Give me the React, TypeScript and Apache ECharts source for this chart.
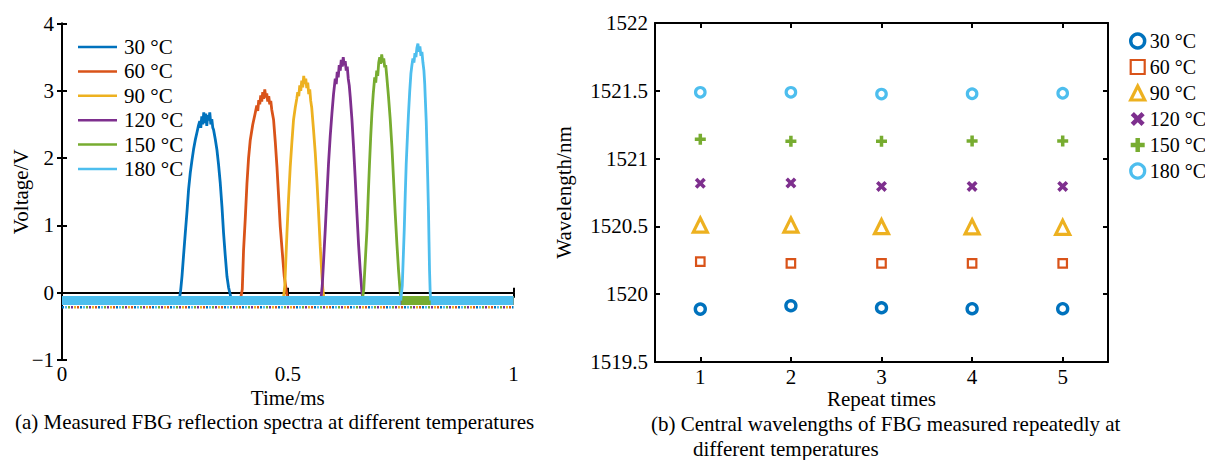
import { useEffect, useRef } from "react";
import * as echarts from "echarts";

const temps = ["30 °C", "60 °C", "90 °C", "120 °C", "150 °C", "180 °C"];
const colors = ["#0072BD", "#D95319", "#EDB120", "#7E2F8E", "#77AC30", "#4DBEEE"];

// (a) reflection spectra: time (ms), voltage (V)
const baseline = -0.116;
const speckLevel = -0.215;
const timeTicks = [0, 0.5, 1];

const peak30 = [
  [0.2597, -0.116], [0.263, 0.05], [0.2657, 0.24], [0.2692, 0.55], [0.273, 0.88], [0.2768, 1.2],
  [0.2803, 1.53], [0.2841, 1.78], [0.2879, 1.97], [0.2914, 2.13], [0.2952, 2.27], [0.2989, 2.38],
  [0.3025, 2.49], [0.3051, 2.55], [0.3074, 2.45], [0.3096, 2.62], [0.3118, 2.5], [0.314, 2.68],
  [0.3162, 2.52], [0.3184, 2.66], [0.3207, 2.48], [0.3229, 2.64], [0.3251, 2.56], [0.3273, 2.68],
  [0.3296, 2.5], [0.3318, 2.58], [0.334, 2.45], [0.3357, 2.42], [0.3395, 2.28], [0.3432, 2.12],
  [0.3468, 1.9], [0.3505, 1.63], [0.3543, 1.28], [0.3578, 0.89], [0.3616, 0.55], [0.3654, 0.24],
  [0.3689, 0.08], [0.3727, -0.03], [0.375, -0.116],
];
const peak60 = [
  [0.3948, -0.116], [0.3993, 0.05], [0.4021, 0.63], [0.4059, 1.1], [0.4097, 1.63], [0.4132, 2.0],
  [0.417, 2.27], [0.4225, 2.5], [0.428, 2.67], [0.4314, 2.78], [0.4336, 2.7], [0.4358, 2.86],
  [0.438, 2.8], [0.4402, 2.93], [0.4424, 2.84], [0.4446, 2.98], [0.4469, 2.88], [0.4491, 3.02],
  [0.4513, 2.9], [0.4535, 2.96], [0.4557, 2.84], [0.4579, 2.92], [0.4601, 2.8], [0.4624, 2.85],
  [0.4646, 2.72], [0.4686, 2.57], [0.4723, 2.25], [0.4761, 1.87], [0.4796, 1.45], [0.4834, 0.98],
  [0.4879, 0.6], [0.4923, 0.24], [0.4982, -0.03], [0.5011, -0.116],
];
const peak90 = [
  [0.49, -0.116], [0.4934, 0.1], [0.4982, 0.88], [0.5018, 1.4], [0.5055, 1.87], [0.5093, 2.25],
  [0.5128, 2.57], [0.5166, 2.75], [0.5199, 2.88], [0.5221, 2.98], [0.5244, 2.92], [0.5266, 3.08],
  [0.5288, 3.0], [0.531, 3.15], [0.5332, 3.05], [0.5354, 3.22], [0.5376, 3.1], [0.5399, 3.18],
  [0.5421, 3.04], [0.5443, 3.12], [0.5465, 2.95], [0.5487, 3.02], [0.5509, 2.85], [0.5531, 2.75],
  [0.5571, 2.42], [0.5609, 2.08], [0.5646, 1.67], [0.5682, 1.2], [0.572, 0.68], [0.5753, 0.3],
  [0.5779, 0.04], [0.5808, -0.116],
];
const peak120 = [
  [0.5731, -0.116], [0.5764, 0.1], [0.583, 0.93], [0.5868, 1.45], [0.5903, 1.92], [0.5941, 2.33],
  [0.5979, 2.67], [0.6014, 2.95], [0.6052, 3.18], [0.6074, 3.1], [0.6096, 3.28], [0.6118, 3.2],
  [0.614, 3.38], [0.6163, 3.3], [0.6185, 3.46], [0.6207, 3.36], [0.6229, 3.5], [0.6251, 3.38],
  [0.6273, 3.44], [0.6295, 3.3], [0.6318, 3.36], [0.634, 3.18], [0.6362, 3.08], [0.6384, 2.91],
  [0.6421, 2.58], [0.6457, 2.17], [0.6494, 1.7], [0.6532, 1.18], [0.6568, 0.72], [0.6605, 0.34],
  [0.6643, 0.0], [0.6671, -0.116],
];
const peak150 = [
  [0.665, -0.116], [0.6683, 0.05], [0.6754, 0.93], [0.6783, 1.45], [0.6811, 1.92], [0.6838, 2.33],
  [0.6864, 2.67], [0.6893, 2.95], [0.6926, 3.2], [0.6949, 3.12], [0.6971, 3.3], [0.6993, 3.22],
  [0.7015, 3.42], [0.7037, 3.5], [0.7059, 3.4], [0.7081, 3.54], [0.7104, 3.42], [0.7126, 3.48],
  [0.7148, 3.35], [0.717, 3.38], [0.7192, 3.22], [0.7214, 3.05], [0.7232, 2.91], [0.7269, 2.58],
  [0.7307, 2.17], [0.7342, 1.7], [0.738, 1.18], [0.7418, 0.72], [0.7453, 0.34], [0.7491, 0.0],
  [0.7513, -0.116],
];
const peak180 = [
  [0.7502, -0.116], [0.7536, 0.1], [0.758, 0.93], [0.7602, 1.45], [0.7624, 1.92], [0.7651, 2.33],
  [0.7675, 2.67], [0.7702, 3.0], [0.7728, 3.26], [0.775, 3.38], [0.7772, 3.48], [0.7795, 3.42],
  [0.7817, 3.56], [0.7839, 3.5], [0.7861, 3.64], [0.7883, 3.7], [0.7905, 3.58], [0.7927, 3.66],
  [0.795, 3.52], [0.7972, 3.58], [0.7994, 3.42], [0.8016, 3.3], [0.8034, 3.1], [0.8045, 2.91],
  [0.8067, 2.55], [0.8082, 2.17], [0.81, 1.7], [0.8118, 1.18], [0.8129, 0.75], [0.814, 0.34],
  [0.8155, 0.0], [0.8166, -0.116],
];
const peaks = [peak30, peak60, peak90, peak120, peak150, peak180];

// (b) central wavelengths (nm) per repeat
const repeats = ["1", "2", "3", "4", "5"];
const wl30 = [1519.89, 1519.915, 1519.9, 1519.893, 1519.893];
const wl60 = [1520.24, 1520.228, 1520.228, 1520.228, 1520.228];
const wl90 = [1520.51, 1520.51, 1520.498, 1520.497, 1520.493];
const wl120 = [1520.818, 1520.82, 1520.795, 1520.795, 1520.795];
const wl150 = [1521.142, 1521.128, 1521.128, 1521.13, 1521.13];
const wl180 = [1521.489, 1521.489, 1521.476, 1521.478, 1521.482];
const wavelengths = [wl30, wl60, wl90, wl120, wl150, wl180];

const FONT = "'Liberation Serif', 'Times New Roman', serif";
const FS = 21;
const PLUS = "path://M3.4,0H6.6V3.4H10V6.6H6.6V10H3.4V6.6H0V3.4H3.4Z";
const CROSS = "path://M0,2.3L2.3,0L5,2.7L7.7,0L10,2.3L7.3,5L10,7.7L7.7,10L5,7.3L2.3,10L0,7.7L2.7,5Z";

const markerStyles = [
  { symbol: "circle", symbolSize: 10, itemStyle: { color: "#fff", borderColor: colors[0], borderWidth: 3.4, opacity: 1 } },
  { symbol: "rect", symbolSize: 8.5, itemStyle: { color: "#fff", borderColor: colors[1], borderWidth: 2.2, opacity: 1 } },
  { symbol: "triangle", symbolSize: 14, itemStyle: { color: "#fff", borderColor: colors[2], borderWidth: 3.2, opacity: 1 } },
  { symbol: CROSS, symbolSize: 11, itemStyle: { color: colors[3], opacity: 1 } },
  { symbol: PLUS, symbolSize: 11, itemStyle: { color: colors[4], opacity: 1 } },
  { symbol: "circle", symbolSize: 9.5, itemStyle: { color: "#fff", borderColor: colors[5], borderWidth: 3.2, opacity: 1 } },
];

const axisLine = { show: true, lineStyle: { color: "#000", width: 2 } };
const tickIn = { show: true, inside: true, length: 5, lineStyle: { color: "#000", width: 2 } };
const labelStyle = { color: "#000", fontFamily: FONT, fontSize: FS };

export default function App() {
  const ref = useRef<HTMLDivElement>(null);
  useEffect(() => {
    if (!ref.current) return;
    const chart = echarts.init(ref.current, undefined, { renderer: "svg" });

    const series: any[] = [];
    colors.forEach((c, i) => {
      series.push({
        type: "line", name: "speck" + i, xAxisIndex: 0, yAxisIndex: 0, showSymbol: false, silent: true,
        data: [[0, speckLevel], [1, speckLevel]],
        lineStyle: { color: c, width: 2.5, type: [2, 16], dashOffset: i * 3 },
        z: 1,
      });
    });
    peaks.forEach((p, i) => {
      const start = p[0][0];
      const end = p[p.length - 1][0];
      series.push({
        type: "line", name: "band" + i, xAxisIndex: 0, yAxisIndex: 0, showSymbol: false, silent: true,
        data: [[0, baseline], [start, baseline], [start, "-"], [end, baseline], [1, baseline]],
        lineStyle: { color: colors[i], width: 9, cap: "butt" },
        z: 2 + i,
      });
      series.push({
        type: "line", name: temps[i], xAxisIndex: 0, yAxisIndex: 0, showSymbol: false,
        color: colors[i], data: p,
        lineStyle: { color: colors[i], width: 2.8 },
        z: 2 + i,
      });
    });
    wavelengths.forEach((w, i) => {
      const m = markerStyles[i];
      series.push({
        type: "scatter", name: temps[i], xAxisIndex: 2, yAxisIndex: 2,
        data: w, symbol: m.symbol, symbolSize: m.symbolSize,
        itemStyle: m.itemStyle, color: colors[i],
      });
    });

    chart.setOption({
      animation: false,
      backgroundColor: "#fff",
      grid: [
        { left: 62, top: 23.5, width: 451.5, height: 336.5 },
        { left: 655, top: 23, width: 453, height: 339 },
      ],
      xAxis: [
        {
          gridIndex: 0, type: "value", min: 0, max: 1, interval: 0.5, position: "bottom",
          axisLine, axisTick: tickIn, splitLine: { show: false },
          axisLabel: { ...labelStyle, margin: 3, formatter: (v: number) => (timeTicks.includes(v) ? String(v) : "") },
          name: "Time/ms", nameLocation: "middle", nameGap: 27, nameMoveOverlap: false,
          nameTextStyle: { ...labelStyle },
        },
        {
          gridIndex: 0, type: "value", min: 0, max: 1, interval: 0.5, position: "top",
          axisLine, axisTick: tickIn, axisLabel: { show: false }, splitLine: { show: false },
        },
        {
          gridIndex: 1, type: "category", data: repeats, position: "bottom", boundaryGap: true,
          axisLine, axisTick: { ...tickIn, alignWithLabel: true }, splitLine: { show: false },
          axisLabel: { ...labelStyle, margin: 4 },
          name: "Repeat times", nameLocation: "middle", nameGap: 26.5, nameMoveOverlap: false,
          nameTextStyle: { ...labelStyle },
        },
        {
          gridIndex: 1, type: "category", data: repeats, position: "top", boundaryGap: true,
          axisLine, axisTick: { ...tickIn, alignWithLabel: true }, axisLabel: { show: false }, splitLine: { show: false },
        },
      ],
      yAxis: [
        {
          gridIndex: 0, type: "value", min: -1, max: 4, interval: 1, position: "left",
          axisLine, axisTick: tickIn, splitLine: { show: false },
          axisLabel: { ...labelStyle, margin: 8, formatter: (v: number) => String(v).replace("-", "\u2212") },
          name: "Voltage/V", nameLocation: "middle", nameGap: 31, nameMoveOverlap: false,
          nameTextStyle: { ...labelStyle },
        },
        {
          gridIndex: 0, type: "value", min: -1, max: 4, interval: 1, position: "right",
          axisLine, axisTick: tickIn, axisLabel: { show: false }, splitLine: { show: false },
        },
        {
          gridIndex: 1, type: "value", min: 1519.5, max: 1522, interval: 0.5, position: "left",
          axisLine, axisTick: tickIn, splitLine: { show: false },
          axisLabel: { ...labelStyle, margin: 7, formatter: (v: number) => String(Math.round(v * 10) / 10) },
          name: "Wavelength/nm", nameLocation: "middle", nameGap: 81, nameMoveOverlap: false,
          nameTextStyle: { ...labelStyle },
        },
        {
          gridIndex: 1, type: "value", min: 1519.5, max: 1522, interval: 0.5, position: "right",
          axisLine, axisTick: tickIn, axisLabel: { show: false }, splitLine: { show: false },
        },
      ],
      legend: [
        {
          data: temps, left: 73, top: 31.5, orient: "vertical", icon: "rect",
          itemWidth: 39, itemHeight: 2.5, itemGap: 3.4, selectedMode: false,
          textStyle: { ...labelStyle, lineHeight: 21, padding: [0, 0, 0, 2] },
        },
        {
          data: temps.map((t, i) => ({
            name: t,
            icon: markerStyles[i].symbol,
            itemStyle: markerStyles[i].itemStyle,
          })),
          left: 1124, top: 26, orient: "vertical",
          itemWidth: 14, itemHeight: 14, itemGap: 6, selectedMode: false,
          textStyle: { ...labelStyle, fontSize: 20, lineHeight: 20 },
        },
      ],
      graphic: [
        {
          type: "text", left: 15, top: 411,
          style: { text: "(a) Measured FBG reflection spectra at different temperatures", fill: "#000", font: `${FS}px ${FONT}` },
        },
        {
          type: "text", left: 651, top: 413,
          style: { text: "(b) Central wavelengths of FBG measured repeatedly at", fill: "#000", font: `${FS}px ${FONT}` },
        },
        {
          type: "text", left: 693, top: 438,
          style: { text: "different temperatures", fill: "#000", font: `${FS}px ${FONT}` },
        },
      ],
      series,
    });
    return () => chart.dispose();
  }, []);
  return <div ref={ref} style={{ position: "fixed", left: 0, top: 0, width: 1205, height: 460 }} />;
}
